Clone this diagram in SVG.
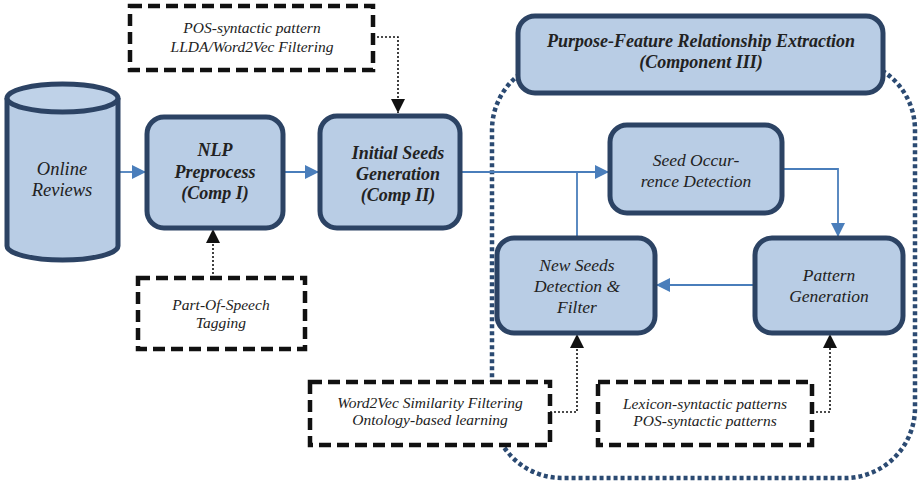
<svg xmlns="http://www.w3.org/2000/svg" width="920" height="487" viewBox="0 0 920 487">
<defs>
<style>
.box{fill:#b9cde5;stroke:#2c4364;stroke-width:5}
.dbox{fill:#fff;stroke:#111;stroke-width:4.5;stroke-dasharray:12 6}
.t{font-family:"Liberation Serif",serif;font-style:italic;fill:#222;text-anchor:middle}
.b{font-weight:bold;font-size:18px}
.n{font-size:17.5px}
.s{font-size:15.5px}
.flow{fill:none;stroke:#4a7ebb;stroke-width:1.8}
.dot{fill:none;stroke:#111;stroke-width:1.6;stroke-dasharray:2 2}
</style>
<marker id="ab" viewBox="0 0 10 10" refX="10" refY="5" markerWidth="14" markerHeight="14" markerUnits="userSpaceOnUse" orient="auto"><path d="M0,0L10,5L0,10z" fill="#4a7ebb"/></marker>
<marker id="ak" viewBox="0 0 10 10" refX="10" refY="5" markerWidth="14" markerHeight="14" markerUnits="userSpaceOnUse" orient="auto"><path d="M0,0L10,5L0,10z" fill="#111"/></marker>
</defs>
<rect x="492" y="60" width="423" height="418" rx="70" fill="none" stroke="#2b4a72" stroke-width="4.5" stroke-dasharray="4 3"/>
<g id="connectors">
<path class="flow" d="M118,172H146" marker-end="url(#ab)"/>
<path class="flow" d="M283,172H319" marker-end="url(#ab)"/>
<path class="flow" d="M460,172H609" marker-end="url(#ab)"/>
<path class="flow" d="M577,238V172"/>
<path class="flow" d="M782,169H838V237" marker-end="url(#ab)"/>
<path class="flow" d="M755,285H656" marker-end="url(#ab)"/>
<path class="dot" d="M373,37H398V113" marker-end="url(#ak)"/>
<path class="dot" d="M213,278V229" marker-end="url(#ak)"/>
<path class="dot" d="M550,412H577V334" marker-end="url(#ak)"/>
<path class="dot" d="M812,412H830V334" marker-end="url(#ak)"/>
</g>
<g id="online-reviews">
<path d="M7,98V246A55.5,14 0 0 0 118,246V98" fill="#b9cde5" stroke="#2c4364" stroke-width="5"/>
<ellipse cx="62.5" cy="98" rx="55.5" ry="14" fill="#bfd2e8" stroke="#2c4364" stroke-width="5"/>
<text class="t" x="62" y="175" style="font-size:18.5px">Online</text>
<text class="t" x="62" y="196" style="font-size:18.5px">Reviews</text>
</g>
<g id="nlp">
<rect class="box" x="147" y="117" width="136" height="111" rx="17"/>
<text class="t b" x="215" y="156">NLP</text>
<text class="t b" x="215" y="178">Preprocess</text>
<text class="t b" x="215" y="199">(Comp I)</text>
</g>
<g id="initial">
<rect class="box" x="320" y="116" width="140" height="112" rx="17"/>
<text class="t b" x="398" y="159">Initial Seeds</text>
<text class="t b" x="398" y="180">Generation</text>
<text class="t b" x="398" y="201">(Comp II)</text>
</g>
<g id="pos-top">
<rect class="dbox" x="130" y="6" width="243" height="64"/>
<text class="t s" x="252" y="33">POS-syntactic pattern</text>
<text class="t s" x="252" y="52">LLDA/Word2Vec Filtering</text>
</g>
<g id="pos-tag">
<rect class="dbox" x="138" y="278" width="167" height="71"/>
<text class="t s" x="221" y="310">Part-Of-Speech</text>
<text class="t s" x="221" y="328">Tagging</text>
</g>
<g id="component3">
<rect class="box" x="518" y="16" width="365" height="77" rx="17"/>
<text class="t b" x="701" y="47">Purpose-Feature Relationship Extraction</text>
<text class="t b" x="701" y="68">(Component III)</text>
</g>
<g id="seed-occ">
<rect class="box" x="610" y="125" width="172" height="88" rx="17"/>
<text class="t n" x="696" y="166">Seed Occur-</text>
<text class="t n" x="696" y="187">rence Detection</text>
</g>
<g id="new-seeds">
<rect class="box" x="497" y="238" width="158" height="95" rx="17"/>
<text class="t n" x="577" y="271">New Seeds</text>
<text class="t n" x="577" y="292">Detection &amp;</text>
<text class="t n" x="577" y="313">Filter</text>
</g>
<g id="pattern">
<rect class="box" x="755" y="238" width="148" height="95" rx="17"/>
<text class="t n" x="829" y="281">Pattern</text>
<text class="t n" x="829" y="302">Generation</text>
</g>
<g id="word2vec">
<rect class="dbox" x="310" y="382" width="240" height="63"/>
<text class="t s" x="430" y="408">Word2Vec Similarity Filtering</text>
<text class="t s" x="430" y="425">Ontology-based learning</text>
</g>
<g id="lexicon">
<rect class="dbox" x="598" y="382" width="214" height="63"/>
<text class="t s" x="705" y="409">Lexicon-syntactic patterns</text>
<text class="t s" x="705" y="426">POS-syntactic patterns</text>
</g>
</svg>
